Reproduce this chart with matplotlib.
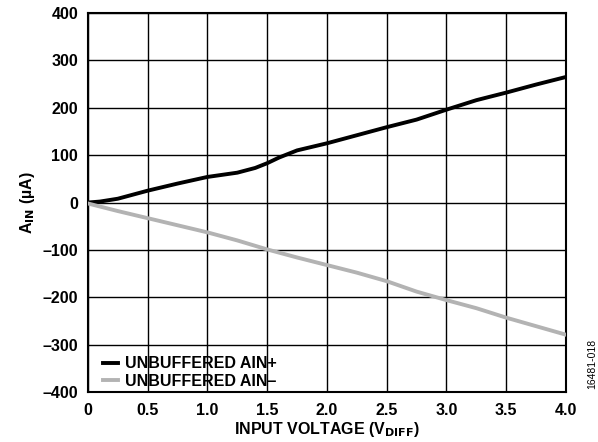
import matplotlib
matplotlib.use("Agg")
import matplotlib.pyplot as plt

plt.rcParams['font.family'] = ['Liberation Sans', 'DejaVu Sans']
plt.rcParams['font.weight'] = 'bold'

# data
v_pos = [0, 0.1, 0.25, 0.5, 0.75, 1.0, 1.25, 1.4, 1.5, 1.6, 1.75, 2.0, 2.25, 2.5, 2.75, 3.0, 3.25, 3.5, 3.75, 4.0]
ain_pos = [0, 2, 8, 25, 40, 54, 63, 73, 83, 95, 110, 125, 142, 159, 175, 196, 216, 232, 249, 265]

v_neg = [0, 0.25, 0.5, 0.75, 1.0, 1.25, 1.5, 1.75, 2.0, 2.25, 2.5, 2.75, 3.0, 3.25, 3.5, 3.75, 4.0]
ain_neg = [-2, -18, -33, -48, -63, -80, -99, -116, -132, -148, -166, -188, -206, -223, -243, -261, -279]

xticks = [0, 0.5, 1.0, 1.5, 2.0, 2.5, 3.0, 3.5, 4.0]
xtick_labels = ['0', '0.5', '1.0', '1.5', '2.0', '2.5', '3.0', '3.5', '4.0']
yticks = [-400, -300, -200, -100, 0, 100, 200, 300, 400]
ytick_labels = ['\u2013400', '\u2013300', '\u2013200', '\u2013100', '0', '100', '200', '300', '400']

fig = plt.figure(figsize=(5.98, 4.42), dpi=100)
ax = fig.add_axes([0.147, 0.113, 0.7995, 0.8576])

ax.plot(v_pos, ain_pos, color='black', lw=2.8, label='UNBUFFERED AIN+', zorder=3)
ax.plot(v_neg, ain_neg, color='#b3b3b3', lw=2.8, label='UNBUFFERED AIN\u2013', zorder=3)

ax.set_xlim(0, 4.0)
ax.set_ylim(-400, 400)
ax.set_xticks(xticks)
ax.set_xticklabels(xtick_labels)
ax.set_yticks(yticks)
ax.set_yticklabels(ytick_labels)
ax.tick_params(axis='x', length=0, labelsize=11.5, pad=8)
ax.tick_params(axis='y', length=0, labelsize=11.5, pad=7)
ax.grid(True, color='black', lw=1.0)
for s in ax.spines.values():
    s.set_linewidth(1.5)

ax.set_xlabel('INPUT VOLTAGE (V$_{\\mathbf{DIFF}}$)', fontsize=11.5, fontweight='bold', labelpad=1)
ax.set_ylabel('A$_{\\mathbf{IN}}$ (\u00b5A)', fontsize=11.5, fontweight='bold', labelpad=4)

leg = ax.legend(loc='lower left', bbox_to_anchor=(0.031, 0.008), frameon=False,
                handlelength=0.95, handletextpad=0.45, borderaxespad=0, borderpad=0,
                labelspacing=0.18, prop={'weight': 'bold', 'size': 11.5})

fig.text(0.99, 0.12, '16481-018', rotation=90, fontsize=7.5, fontweight='normal',
         ha='center', va='bottom')

fig.savefig('out.png', dpi=100)
